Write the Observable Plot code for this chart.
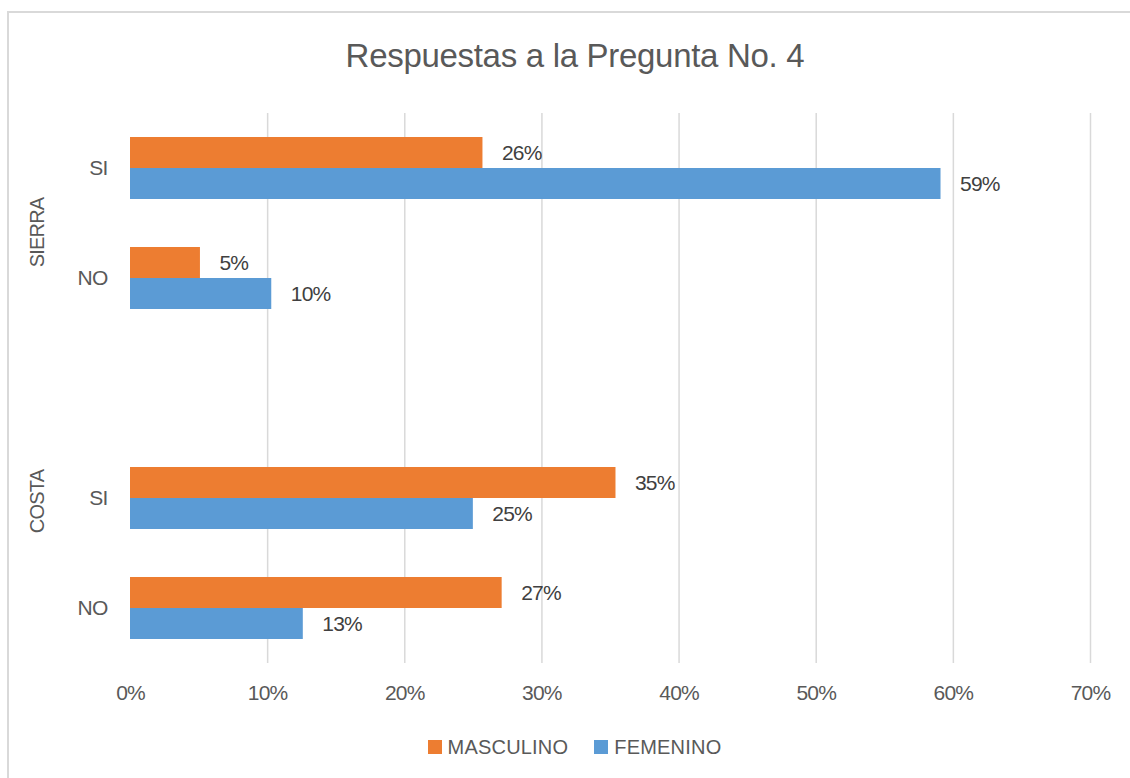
<!DOCTYPE html>
<html><head><meta charset="utf-8">
<script src="https://cdn.jsdelivr.net/npm/d3@7"></script>
<script src="https://cdn.jsdelivr.net/npm/@observablehq/plot@0.6"></script>
<style>
html,body{margin:0;padding:0;background:#fff;}
#frame{position:relative;width:1130px;height:778px;overflow:hidden;font-family:"Liberation Sans",Arial,sans-serif;color:#595959;}
#border{position:absolute;left:7px;top:11px;width:1200px;height:900px;border:2px solid #d9d9d9;box-sizing:border-box;}
#title{position:absolute;left:0;width:1150px;top:36px;text-align:center;font-size:33px;line-height:40px;white-space:nowrap;letter-spacing:-0.3px;}
#chart{position:absolute;left:0;top:100px;}
#legend{position:absolute;top:737px;left:0;width:1149px;display:flex;justify-content:center;align-items:center;font-size:20px;line-height:20px;letter-spacing:0.2px;}
.item{display:flex;align-items:center;margin:0 13px;}
.sw{width:14px;height:14px;margin-right:6px;}
</style></head>
<body>
<div id="frame">
  <div id="border"></div>
  <div id="title">Respuestas a la Pregunta No. 4</div>
  <div id="chart"></div>
  <div id="legend"></div>
</div>
<script>
const regions = ["SIERRA", "SIERRA", "COSTA", "COSTA"];
const answers = ["SI", "NO", "SI", "NO"];
const series = ["MASCULINO", "FEMENINO"];
const masculino = [0.257, 0.051, 0.354, 0.271];
const femenino = [0.591, 0.103, 0.250, 0.126];
const colors = ["#ED7D31", "#5B9BD5"];
const xTicks = [0, 0.1, 0.2, 0.3, 0.4, 0.5, 0.6, 0.7];
const slotDomain = ["SIERRA|SI", "SIERRA|NO", " ", "COSTA|SI", "COSTA|NO"];

const data = [];
regions.forEach((r, i) => {
  series.forEach((s, j) => {
    data.push({slot: r + "|" + answers[i], serie: s, value: (j === 0 ? masculino : femenino)[i]});
  });
});

const gridTicks = xTicks.filter(d => d > 0);
const gridData = [];
slotDomain.forEach(slot => gridTicks.forEach(t => gridData.push({slot, t})));

const font = '"Liberation Sans",Arial,sans-serif';
const pct = d3.format(".0%");

const chart = Plot.plot({
  width: 1130,
  height: 610,
  marginTop: 11,
  marginBottom: 45,
  marginLeft: 130,
  marginRight: 40,
  style: {fontFamily: font, fontSize: "21px", color: "#595959", background: "transparent", letterSpacing: "-0.8px"},
  x: {domain: [0, 0.7]},
  y: {domain: series, paddingInner: 0, paddingOuter: 0.73, axis: null},
  fy: {domain: slotDomain, padding: 0},
  color: {domain: series, range: colors},
  marks: [
    Plot.ruleX(gridData, {x: "t", fy: "slot", stroke: "#d9d9d9", strokeWidth: 1.5}),
    Plot.barX(data, {x: "value", y: "serie", fy: "slot", fill: "serie"}),
    Plot.text(data, {x: "value", y: "serie", fy: "slot", text: d => pct(d.value), textAnchor: "start", dx: 19, fill: "#404040", fontSize: 21}),
    Plot.axisX({ticks: xTicks, tickFormat: pct, tickSize: 0, tickPadding: 22, label: null, fontSize: 21, fill: "#595959", facetAnchor: "bottom"}),
    Plot.axisFy({anchor: "left", tickFormat: d => d.split("|")[1] || "", tickSize: 0, tickPadding: 23, label: null, fontSize: 21, fill: "#595959"}),
    Plot.text([{slot: "SIERRA|NO", label: "SIERRA"}], {fy: "slot", text: "label", frameAnchor: "left", rotate: -90, textAnchor: "middle", lineAnchor: "middle", dx: -93, dy: -46, fontSize: 20, fill: "#595959"}),
    Plot.text([{slot: "COSTA|SI", label: "COSTA"}], {fy: "slot", text: "label", frameAnchor: "left", rotate: -90, textAnchor: "middle", lineAnchor: "middle", dx: -93, dy: 3, fontSize: 20, fill: "#595959"})
  ]
});
document.getElementById("chart").appendChild(chart);

const legend = document.getElementById("legend");
series.forEach((s, i) => {
  const item = document.createElement("div");
  item.className = "item";
  const sw = document.createElement("div");
  sw.className = "sw";
  sw.style.background = colors[i];
  const t = document.createElement("span");
  t.textContent = s;
  item.appendChild(sw);
  item.appendChild(t);
  legend.appendChild(item);
});
</script>
</body></html>
